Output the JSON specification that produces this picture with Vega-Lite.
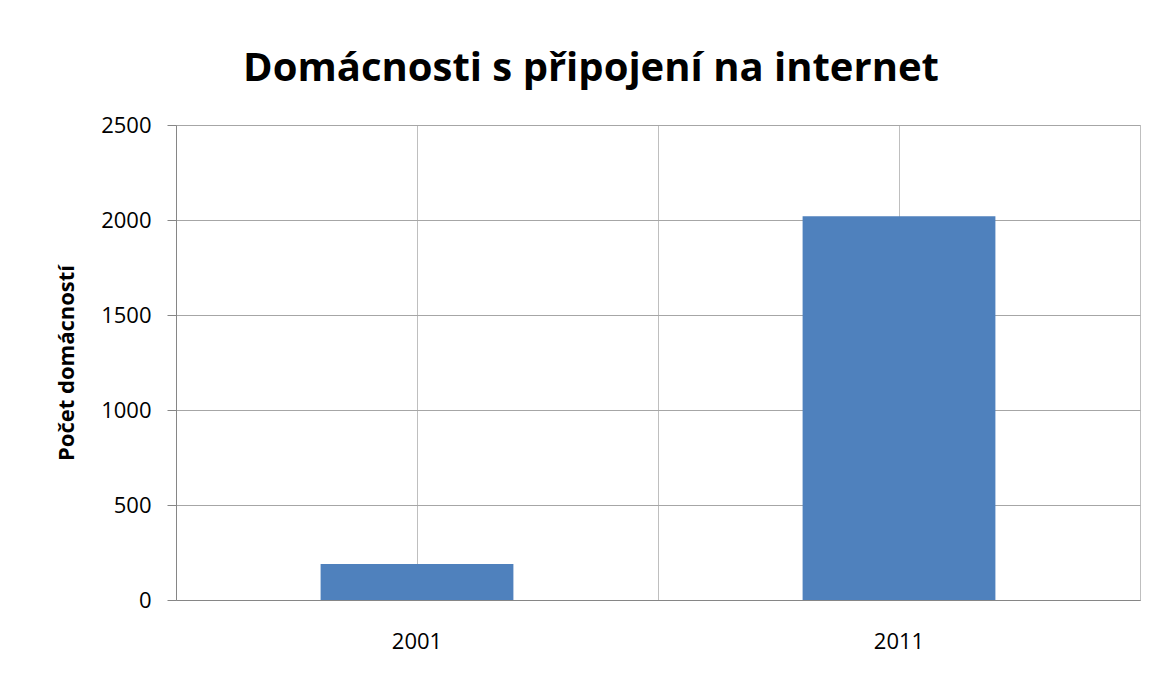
{
  "$schema": "https://vega.github.io/schema/vega-lite/v6.json",
  "autosize": "none",
  "width": 964,
  "height": 475,
  "padding": {"left": 176, "top": 125, "right": 20, "bottom": 81},
  "background": "white",
  "title": {
    "text": "Domácnosti s připojení na internet",
    "font": "Open Sans",
    "fontSize": 40,
    "fontWeight": "bold",
    "color": "black",
    "anchor": "middle",
    "dx": -67,
    "offset": 25
  },
  "config": {
    "view": {"stroke": "#BFBFBF", "strokeWidth": 1},
    "axis": {
      "labelFont": "Open Sans",
      "labelFontSize": 22,
      "labelColor": "#000000",
      "titleFont": "Open Sans",
      "titleColor": "#000000",
      "gridColor": "#BFBFBF",
      "gridOpacity": 1,
      "domainColor": "#868686",
      "tickColor": "#868686"
    }
  },
  "data": {
    "values": [
      {"year": "2001", "households": 190},
      {"year": "2011", "households": 2020}
    ]
  },
  "layer": [
    {
      "mark": {"type": "bar", "opacity": 0},
      "encoding": {
        "x": {
          "field": "year",
          "type": "nominal",
          "scale": {"paddingInner": 0, "paddingOuter": 0},
          "axis": {
            "orient": "bottom",
            "labels": false,
            "ticks": false,
            "domain": false,
            "title": null,
            "grid": true,
            "bandPosition": 0
          }
        },
        "y": {
          "field": "households",
          "type": "quantitative",
          "scale": {"domain": [0, 2500], "nice": false}
        }
      }
    },
    {
      "mark": {"type": "bar", "color": "#4F81BD", "width": {"band": 0.4}},
      "encoding": {
        "x": {
          "field": "year",
          "type": "nominal",
          "scale": {"paddingInner": 0, "paddingOuter": 0},
          "axis": {
            "orient": "bottom",
            "title": null,
            "labelAngle": 0,
            "ticks": false,
            "grid": true,
            "bandPosition": 0.5,
            "labelPadding": 31,
            "domainColor": "#868686"
          }
        },
        "y": {
          "field": "households",
          "type": "quantitative",
          "scale": {"domain": [0, 2500], "nice": false},
          "axis": {
            "values": [0, 500, 1000, 1500, 2000, 2500],
            "format": "d",
            "title": "Počet domácností",
            "titleFontSize": 22,
            "titleFontWeight": "bold",
            "titlePadding": 22,
            "tickSize": 9,
            "labelPadding": 16,
            "grid": true,
            "gridColor": "#A6A6A6"
          }
        }
      }
    }
  ],
  "resolve": {"axis": {"x": "independent"}}
}
